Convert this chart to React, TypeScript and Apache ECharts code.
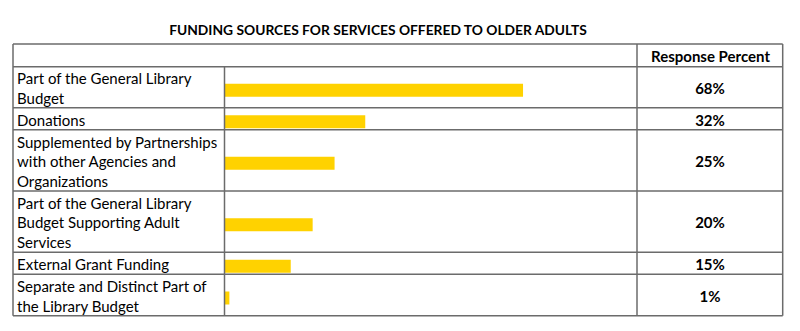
import React, { useEffect, useRef } from "react";
import * as echarts from "echarts";

const categories: string[] = [
  "Part of the General Library\nBudget",
  "Donations",
  "Supplemented by Partnerships\nwith other Agencies and\nOrganizations",
  "Part of the General Library\nBudget Supporting Adult\nServices",
  "External Grant Funding",
  "Separate and Distinct Part of\nthe Library Budget",
];
const values: number[] = [68, 32, 25, 20, 15, 1];
const titleText = "FUNDING SOURCES FOR SERVICES OFFERED TO OLDER ADULTS";
const headerText = "Response Percent";

// layout (pixels)
const rowLines = [44, 66.7, 107.7, 129.7, 191, 252.3, 274.3, 315.7];
const colLines = [13, 224.5, 637, 782.7];
const FONT = "Lato";
const LINE_COLOR = "#6b6b6b";
const BAR_COLOR = "#FFD200";

export default function App() {
  const ref = useRef<HTMLDivElement>(null);
  useEffect(() => {
    document.body.style.margin = "0";
    const chart = echarts.init(ref.current!, null, { renderer: "svg" });
    const grids: any[] = [];
    const xAxes: any[] = [];
    const yAxes: any[] = [];
    const series: any[] = [];
    const n = categories.length;
    // bar grids
    categories.forEach((cat, i) => {
      const top = rowLines[i + 1];
      const h = rowLines[i + 2] - rowLines[i + 1];
      grids.push({ left: 225, width: 412, top: top + 3, height: h });
      xAxes.push({ gridIndex: i, type: "value", min: 0, max: 94, show: false });
      yAxes.push({ gridIndex: i, type: "category", data: [cat], show: false });
      series.push({
        type: "bar",
        xAxisIndex: i,
        yAxisIndex: i,
        data: [values[i]],
        barWidth: 13,
        itemStyle: { color: BAR_COLOR },
        silent: true,
      });
    });
    // label grids
    categories.forEach((cat, i) => {
      const top = rowLines[i + 1];
      const h = rowLines[i + 2] - rowLines[i + 1];
      const gi = n + i;
      grids.push({ left: 225, width: 412, top: top + 0.8, height: h });
      xAxes.push({ gridIndex: gi, type: "value", min: 0, max: 94, show: false });
      yAxes.push({
        gridIndex: gi,
        type: "category",
        data: [cat],
        axisLine: { show: false },
        axisTick: { show: false },
        axisLabel: {
          align: "left",
          margin: 225 - 17,
          fontFamily: FONT,
          fontSize: 15,
          lineHeight: 19.5,
          color: "#000",
        },
      });
      yAxes.push({
        gridIndex: gi,
        type: "category",
        position: "right",
        data: [values[i] + "%"],
        axisLine: { show: false },
        axisTick: { show: false },
        axisLabel: {
          align: "center",
          margin: 73,
          fontFamily: FONT,
          fontSize: 15,
          fontWeight: "bold",
          color: "#000",
        },
      });
    });

    const graphics: any[] = [];
    rowLines.forEach((y) => {
      graphics.push({
        type: "line",
        shape: { x1: colLines[0], y1: y, x2: colLines[3], y2: y },
        style: { stroke: LINE_COLOR, lineWidth: 1.5 },
        z: 10,
      });
    });
    colLines.forEach((x, i) => {
      const top = i === 1 ? rowLines[1] : rowLines[0];
      graphics.push({
        type: "line",
        shape: { x1: x, y1: top, x2: x, y2: rowLines[rowLines.length - 1] },
        style: { stroke: LINE_COLOR, lineWidth: 1.5 },
        z: 10,
      });
    });
    graphics.push({
      type: "text",
      x: 378,
      y: 29,
      style: {
        text: titleText,
        fontFamily: FONT,
        fontSize: 13.8,
        fontWeight: "bold",
        fill: "#000",
        align: "center",
        verticalAlign: "middle",
      },
    });
    graphics.push({
      type: "text",
      x: 710.5,
      y: 55.5,
      style: {
        text: headerText,
        fontFamily: FONT,
        fontSize: 15,
        fontWeight: "bold",
        fill: "#000",
        align: "center",
        verticalAlign: "middle",
      },
    });

    chart.setOption({
      animation: false,
      backgroundColor: "#fff",
      grid: grids,
      xAxis: xAxes,
      yAxis: yAxes,
      series,
      graphic: graphics,
    });
    return () => chart.dispose();
  }, []);
  return <div ref={ref} style={{ width: 800, height: 331 }} />;
}
